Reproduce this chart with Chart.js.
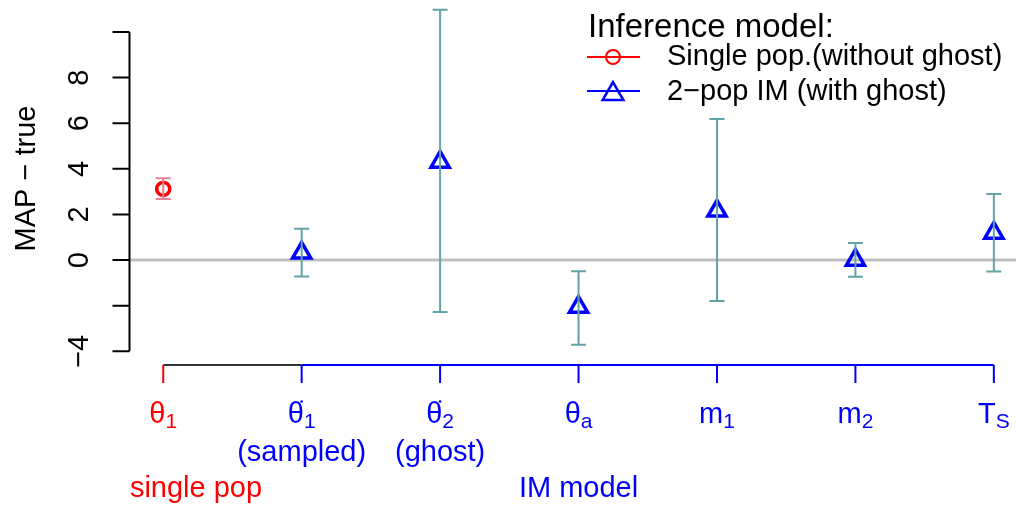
<!DOCTYPE html>
<html>
<head>
<meta charset="utf-8">
<script src="https://cdn.jsdelivr.net/npm/chart.js@4/dist/chart.umd.min.js"></script>
<style>
  html, body { margin: 0; padding: 0; background: #fff; }
  canvas { display: block; }
</style>
</head>
<body>
<canvas id="grafico" width="1016" height="506"></canvas>
<script>
// parametros (eixo x)
const tickMain = ['θ', 'θ', 'θ', 'θ', 'm', 'm', 'T'];
const tickSub = ['1', '1', '2', 'a', '1', '2', 'S'];
const tickDot = [false, true, true, false, false, false, false];
const tickNote = ['', '(sampled)', '(ghost)', '', '', '', ''];
const tickColor = ['#ff0000', '#0000ff', '#0000ff', '#0000ff', '#0000ff', '#0000ff', '#0000ff'];

// modelo de populacao unica
const singleX = [1];
const singleValues = [3.12];
const singleLow = [2.68];
const singleHigh = [3.59];

// modelo IM de 2 populacoes
const imX = [2, 3, 4, 5, 6, 7];
const imValues = [0.32, 4.30, -2.06, 2.16, 0.0, 1.19];
const imLow = [-0.72, -2.28, -3.71, -1.79, -0.73, -0.50];
const imHigh = [1.37, 10.97, -0.49, 6.18, 0.75, 2.90];

// eixo y
const yTicks = [-4, -2, 0, 2, 4, 6, 8, 10];
const yTickLabels = ['−4', '', '0', '2', '4', '6', '8', ''];

const FONTE = '"Liberation Sans", Arial, Helvetica, sans-serif';

function pontos(xs, ys) {
    return xs.map((x, i) => ({ x: x, y: ys[i] }));
}

function desenharTriangulo(ctx, x, y, r) {
    ctx.beginPath();
    ctx.moveTo(x, y - r);
    ctx.lineTo(x + r * Math.sqrt(3) / 2, y + r / 2);
    ctx.lineTo(x - r * Math.sqrt(3) / 2, y + r / 2);
    ctx.closePath();
    ctx.stroke();
}

// linha do zero
const linhaZero = {
    id: 'linhaZero',
    beforeDatasetsDraw(chart) {
        const { ctx, chartArea, scales } = chart;
        const y = scales.y.getPixelForValue(0);
        ctx.save();
        ctx.strokeStyle = '#c0c0c0';
        ctx.lineWidth = 3;
        ctx.beginPath();
        ctx.moveTo(chartArea.left, y);
        ctx.lineTo(chartArea.right, y);
        ctx.stroke();
        ctx.restore();
    }
};

// barras de erro
const barrasErro = {
    id: 'barrasErro',
    afterDatasetsDraw(chart) {
        const { ctx, scales } = chart;
        ctx.save();
        chart.data.datasets.forEach(ds => {
            ctx.strokeStyle = ds.errColor;
            ctx.lineWidth = 2;
            ds.data.forEach((p, i) => {
                const x = scales.x.getPixelForValue(p.x);
                const y1 = scales.y.getPixelForValue(ds.errLow[i]);
                const y2 = scales.y.getPixelForValue(ds.errHigh[i]);
                ctx.beginPath();
                ctx.moveTo(x, y1); ctx.lineTo(x, y2);
                ctx.moveTo(x - 7.5, y1); ctx.lineTo(x + 7.5, y1);
                ctx.moveTo(x - 7.5, y2); ctx.lineTo(x + 7.5, y2);
                ctx.stroke();
            });
        });
        ctx.restore();
    }
};

// eixos, rotulos e legenda no estilo do R
const eixos = {
    id: 'eixos',
    afterDraw(chart) {
        const { ctx, scales } = chart;
        const sx = scales.x, sy = scales.y;
        const axisX = 129.5;
        const axisY = 365;
        ctx.save();

        // eixo y
        ctx.strokeStyle = '#000';
        ctx.lineWidth = 2;
        ctx.beginPath();
        ctx.moveTo(axisX, sy.getPixelForValue(yTicks[0]));
        ctx.lineTo(axisX, sy.getPixelForValue(yTicks[yTicks.length - 1]));
        yTicks.forEach(v => {
            const y = sy.getPixelForValue(v);
            ctx.moveTo(axisX, y);
            ctx.lineTo(axisX - 17, y);
        });
        ctx.stroke();

        ctx.fillStyle = '#000';
        ctx.font = '29px ' + FONTE;
        ctx.textAlign = 'center';
        ctx.textBaseline = 'alphabetic';
        yTicks.forEach((v, i) => {
            if (!yTickLabels[i]) return;
            ctx.save();
            ctx.translate(88, sy.getPixelForValue(v));
            ctx.rotate(-Math.PI / 2);
            ctx.fillText(yTickLabels[i], 0, 0);
            ctx.restore();
        });
        ctx.save();
        ctx.translate(35, 178.5);
        ctx.rotate(-Math.PI / 2);
        ctx.fillText('MAP − true', 0, 0);
        ctx.restore();

        // eixo x
        const xs = tickMain.map((_, i) => sx.getPixelForValue(i + 1));
        ctx.strokeStyle = '#333';
        ctx.beginPath();
        ctx.moveTo(xs[0], axisY);
        ctx.lineTo(xs[1], axisY);
        ctx.stroke();
        ctx.strokeStyle = '#0000ff';
        ctx.beginPath();
        ctx.moveTo(xs[1], axisY);
        ctx.lineTo(xs[xs.length - 1], axisY);
        ctx.stroke();
        xs.forEach((x, i) => {
            ctx.strokeStyle = tickColor[i];
            ctx.beginPath();
            ctx.moveTo(x, axisY);
            ctx.lineTo(x, axisY + 18);
            ctx.stroke();
        });

        xs.forEach((x, i) => {
            ctx.fillStyle = tickColor[i];
            ctx.font = '29px ' + FONTE;
            const wMain = ctx.measureText(tickMain[i]).width;
            ctx.font = '21px ' + FONTE;
            const wSub = ctx.measureText(tickSub[i]).width;
            const left = x - (wMain + wSub) / 2;
            ctx.textAlign = 'left';
            ctx.font = '29px ' + FONTE;
            ctx.fillText(tickMain[i], left, 423);
            ctx.font = '21px ' + FONTE;
            ctx.fillText(tickSub[i], left + wMain, 428);
            if (tickDot[i]) {
                ctx.beginPath();
                ctx.arc(x, 401.5, 1.3, 0, Math.PI * 2);
                ctx.fill();
            }
            if (tickNote[i]) {
                ctx.font = '29px ' + FONTE;
                ctx.textAlign = 'center';
                ctx.fillText(tickNote[i], x, 461);
            }
        });

        ctx.textAlign = 'center';
        ctx.font = '29px ' + FONTE;
        ctx.fillStyle = '#ff0000';
        ctx.fillText('single pop', 196, 497);
        ctx.fillStyle = '#0000ff';
        ctx.fillText('IM model', xs[3], 497);

        // legenda
        ctx.textAlign = 'left';
        ctx.fillStyle = '#000';
        ctx.font = '33px ' + FONTE;
        ctx.fillText('Inference model:', 588, 37);
        ctx.font = '29px ' + FONTE;
        ctx.lineWidth = 2;
        chart.data.datasets.forEach((ds, i) => {
            const ly = 57 + i * 34;
            ctx.strokeStyle = ds.borderColor;
            ctx.beginPath();
            ctx.moveTo(587, ly);
            ctx.lineTo(640, ly);
            ctx.stroke();
            if (ds.pointStyle === 'circle') {
                ctx.beginPath();
                ctx.arc(613, ly, 7, 0, Math.PI * 2);
                ctx.stroke();
            } else {
                ctx.lineWidth = 2.5;
                desenharTriangulo(ctx, 613, ly + 3, 12);
                ctx.lineWidth = 2;
            }
            ctx.fillStyle = '#000';
            ctx.fillText(ds.label, 667, 65 + i * 34.5);
        });

        ctx.restore();
    }
};

new Chart(document.getElementById('grafico'), {
    type: 'scatter',
    data: {
        datasets: [{
            label: 'Single pop.(without ghost)',
            data: pontos(singleX, singleValues),
            errLow: singleLow,
            errHigh: singleHigh,
            errColor: '#e48296',
            pointStyle: 'circle',
            pointRadius: 6.5,
            pointBorderWidth: 3.5,
            borderColor: '#ff0000',
            backgroundColor: 'rgba(0,0,0,0)'
        }, {
            label: '2−pop IM (with ghost)',
            data: pontos(imX, imValues),
            errLow: imLow,
            errHigh: imHigh,
            errColor: '#62a3a5',
            pointStyle: 'triangle',
            pointRadius: 10.5,
            pointBorderWidth: 3.5,
            borderColor: '#0000ff',
            backgroundColor: 'rgba(0,0,0,0)'
        }]
    },
    options: {
        responsive: false,
        animation: false,
        devicePixelRatio: 1,
        layout: { autoPadding: false, padding: { left: 130, right: 0, top: 0, bottom: 141 } },
        scales: {
            x: { type: 'linear', min: 0.76, max: 7.16, display: false },
            y: { type: 'linear', min: -4.6, max: 11.4, display: false }
        },
        plugins: {
            legend: { display: false },
            tooltip: { enabled: false }
        }
    },
    plugins: [linhaZero, barrasErro, eixos]
});
</script>
</body>
</html>
